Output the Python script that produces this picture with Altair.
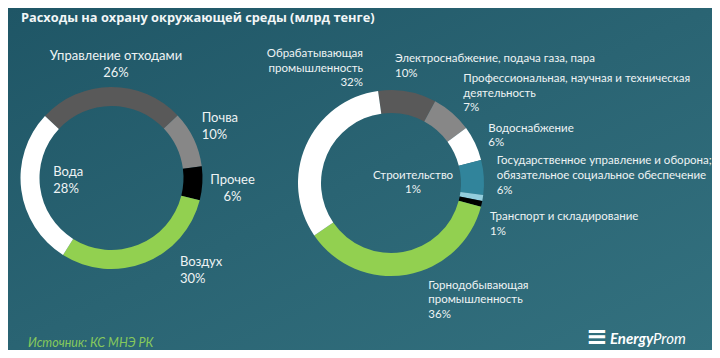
import math
import altair as alt
import pandas as pd

# ---------------- data ----------------
left_categories = ["Управление отходами", "Почва", "Прочее", "Воздух", "Вода"]
left_values = [26, 10, 6, 30, 28]

right_categories = [
    "Электроснабжение, подача газа, пара",
    "Профессиональная, научная и техническая деятельность",
    "Водоснабжение",
    "Государственное управление и оборона; обязательное  социальное обеспечение",
    "Строительство",
    "Транспорт и складирование",
    "Горнодобывающая промышленность",
    "Обрабатывающая промышленность",
]
right_values = [10, 7, 6, 6, 1, 1, 36, 32]

title_text = "Расходы  на охрану окружающей  среды (млрд тенге)"
source_text = "Источник: КС МНЭ РК"

# ---------------- styles / layout ----------------
left_colors = ["#595959", "#878787", "#000000", "#92d050", "#ffffff"]
right_colors = ["#595959", "#878787", "#ffffff", "#31849b", "#93cddd",
                "#000000", "#92d050", "#ffffff"]

W, H = 704, 342
LEFT_CENTER = (103.5, 170)
RIGHT_CENTER = (383, 175)
LEFT_START = math.radians(313)
RIGHT_START = math.radians(352)

# label layout: lines of the name, anchor x, first line y, align, line height
left_label_layout = {
    "Управление отходами": (["Управление отходами"], 108, 47.7, "center", 17.5),
    "Почва": (["Почва"], 193.7, 109.7, "left", 17.4),
    "Прочее": (["Прочее"], 224.5, 172, "center", 16.7),
    "Воздух": (["Воздух"], 172, 253.7, "left", 17.3),
    "Вода": (["Вода"], 45.3, 163.7, "left", 17.3),
}
right_label_layout = {
    right_categories[0]: (["Электроснабжение, подача газа, пара"], 387, 51, "left", 15.3),
    right_categories[1]: (["Профессиональная, научная и техническая", "деятельность"], 455.3, 71.3, "left", 14.5),
    right_categories[2]: (["Водоснабжение"], 480.3, 121, "left", 14.3),
    right_categories[3]: (["Государственное управление и оборона;", "обязательное  социальное обеспечение"], 488.7, 152.7, "left", 15),
    right_categories[4]: (["Строительство"], 405, 167.7, "center", 14.3),
    right_categories[5]: (["Транспорт и складирование"], 482, 208.7, "left", 15.6),
    right_categories[6]: (["Горнодобывающая", "промышленность"], 420.3, 277.7, "left", 14.7),
    right_categories[7]: (["Обрабатывающая", "промышленность"], 355, 46, "right", 14.6),
}

LABEL_FONT = "Lato"
TEXT_COLOR = "#eef3f4"


def donut_df(cats, vals, colors):
    return pd.DataFrame({"cat": cats, "value": vals, "color": colors,
                         "idx": list(range(len(cats)))})


def label_rows(cats, vals, layout):
    rows = []
    for c, v in zip(cats, vals):
        lines, x, y, align, lh = layout[c]
        for i, t in enumerate(lines + [f"{v}%"]):
            rows.append({"t": t, "x": x, "y": y + i * lh, "align": align})
    return pd.DataFrame(rows)


def donut(df, center, start, outer, inner):
    return alt.Chart(df).mark_arc(outerRadius=outer, innerRadius=inner).encode(
        theta=alt.Theta("value:Q", stack=True,
                        scale=alt.Scale(type="linear", zero=True, nice=False,
                                        range=[start, start + 2 * math.pi])),
        order=alt.Order("idx:Q"),
        color=alt.Color("color:N", scale=None, legend=None),
        x=alt.value(center[0]),
        y=alt.value(center[1]),
    )


def text_layer(df, align, size, color=TEXT_COLOR, font=LABEL_FONT, **kw):
    sub = df[df["align"] == align] if "align" in df else df
    return alt.Chart(sub).mark_text(align=align, baseline="middle", fontSize=size,
                                    font=font, color=color, **kw).encode(
        x=alt.X("x:Q", scale=None, axis=None),
        y=alt.Y("y:Q", scale=None, axis=None),
        text="t:N",
    )


bg = alt.Chart(pd.DataFrame({"a": [0]})).mark_rect(
    color=alt.Gradient(gradient="linear",
                       stops=[alt.GradientStop(color="#1f5666", offset=0),
                              alt.GradientStop(color="#2a6473", offset=0.5),
                              alt.GradientStop(color="#33717f", offset=1)],
                       x1=0, y1=0, x2=1, y2=1)
).encode(x=alt.value(0), x2=alt.value(W), y=alt.value(0), y2=alt.value(H))

left_df = donut_df(left_categories, left_values, left_colors)
right_df = donut_df(right_categories, right_values, right_colors)

left_lbl = label_rows(left_categories, left_values, left_label_layout)
right_lbl = label_rows(right_categories, right_values, right_label_layout)

layers = [bg,
          donut(left_df, LEFT_CENTER, LEFT_START, 91, 72),
          donut(right_df, RIGHT_CENTER, RIGHT_START, 93, 70)]
for al in ["left", "center", "right"]:
    if (left_lbl["align"] == al).any():
        layers.append(text_layer(left_lbl, al, 13))
    if (right_lbl["align"] == al).any():
        layers.append(text_layer(right_lbl, al, 11.5))

title_df = pd.DataFrame({"t": [title_text], "x": [13], "y": [10]})
layers.append(text_layer(title_df, "left", 12.8, color="#f2f6f7",
                         font="Open Sans", fontWeight="bold"))

src_df = pd.DataFrame({"t": [source_text], "x": [20], "y": [334.7]})
layers.append(text_layer(src_df, "left", 12.5, color="#86c95c",
                         fontStyle="italic"))

logo_icon = pd.DataFrame({"t": ["≡"], "x": [578], "y": [329]})
layers.append(text_layer(logo_icon, "left", 26, color="#ffffff",
                         font="DejaVu Sans", fontWeight="bold", fontStyle="italic"))
logo1 = pd.DataFrame({"t": ["Energy"], "x": [602], "y": [331]})
layers.append(text_layer(logo1, "left", 15, color="#ffffff",
                         fontWeight="bold", fontStyle="italic"))
logo2 = pd.DataFrame({"t": ["Prom"], "x": [645], "y": [331]})
layers.append(text_layer(logo2, "left", 15, color="#ffffff",
                         fontStyle="italic"))

chart = alt.layer(*layers).resolve_scale(theta="independent").properties(
    width=W, height=H,
    autosize=alt.AutoSizeParams(type="fit", contains="padding"),
    padding=0,
    background="#2a6473",
).configure_view(stroke=None)

chart.save("out.html", embed_options={"renderer": "svg", "actions": False})
